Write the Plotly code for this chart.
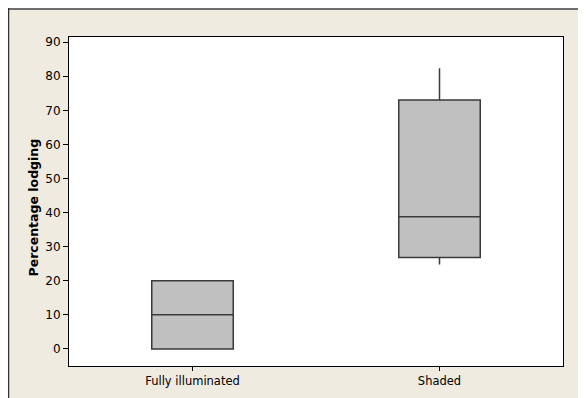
import plotly.graph_objects as go

# box summaries
GROUPS = ["Fully illuminated", "Shaded"]
Q1 = [0, 26.8]
MEDIAN = [10, 38.8]
Q3 = [20, 73.0]
LOWER = [0, 24.8]
UPPER = [20, 82.3]
Y_TICKS = [0, 10, 20, 30, 40, 50, 60, 70, 80, 90]

W, H = 586, 398
L, R, T, B = 61, 31, 29, 40
BEIGE = "#EFEBE1"
FONT = "DejaVu Sans"

fig = go.Figure()

fig.add_trace(
    go.Box(
        x=GROUPS,
        q1=Q1,
        median=MEDIAN,
        q3=Q3,
        lowerfence=LOWER,
        upperfence=UPPER,
        width=0.33,
        whiskerwidth=0,
        fillcolor="#C0C0C0",
        line=dict(color="#3A3A3A", width=1.5),
        boxpoints=False,
        hoverinfo="skip",
        showlegend=False,
    )
)

pw, ph = W - L - R, H - T - B


def px(x):
    return (x - L) / pw


def py(y):
    return (H - B - y) / ph


# frame lines along the top and left edge of the figure
shapes = [
    dict(type="line", xref="paper", yref="paper", x0=px(0), x1=px(W),
         y0=py(1), y1=py(1), line=dict(color="#6E6E6E", width=2)),
    dict(type="line", xref="paper", yref="paper", x0=px(0.5), x1=px(0.5),
         y0=py(0), y1=py(H), line=dict(color="#303030", width=1.5)),
]

fig.add_annotation(
    text="<b>Percentage lodging</b>",
    xref="paper", yref="paper",
    x=px(25), y=py(199.5),
    xanchor="center", yanchor="middle",
    textangle=-90,
    showarrow=False,
    font=dict(family=FONT, size=12.5, color="black"),
)

fig.update_layout(
    width=W,
    height=H,
    margin=dict(l=L, r=R, t=T, b=B, autoexpand=False),
    paper_bgcolor=BEIGE,
    plot_bgcolor="white",
    font=dict(family=FONT, size=11.5, color="black"),
    shapes=shapes,
    showlegend=False,
)

fig.update_xaxes(
    range=[-0.5, 1.5],
    showline=True,
    linecolor="black",
    linewidth=1,
    mirror=True,
    ticks="outside",
    ticklen=4,
    tickcolor="black",
    tickfont=dict(size=11.5),
    showgrid=False,
    zeroline=False,
    automargin=False,
)
fig.update_yaxes(
    range=[-5, 91.5],
    tickvals=Y_TICKS,
    showline=True,
    linecolor="black",
    linewidth=1,
    mirror=True,
    ticks="outside",
    ticklen=5,
    tickcolor="black",
    tickfont=dict(size=12),
    showgrid=False,
    zeroline=False,
    automargin=False,
)

fig.write_html("out.html")
